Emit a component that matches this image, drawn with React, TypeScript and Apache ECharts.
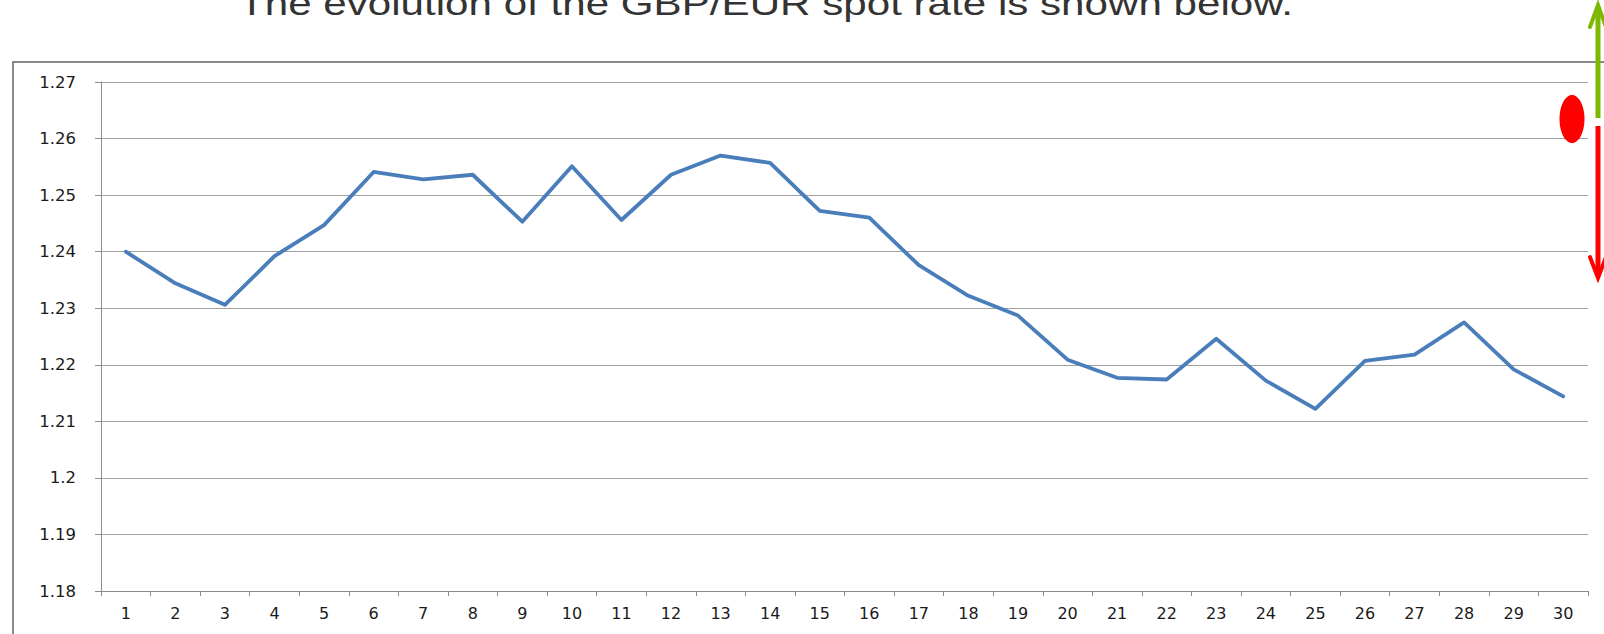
import React, { useEffect, useRef } from "react";
import * as echarts from "echarts";

const TITLE = "The evolution of the GBP/EUR spot rate is shown below.";
const categories = [
  "1", "2", "3", "4", "5", "6", "7", "8", "9", "10",
  "11", "12", "13", "14", "15", "16", "17", "18", "19", "20",
  "21", "22", "23", "24", "25", "26", "27", "28", "29", "30",
];
const spotRate = [
  1.24, 1.2344, 1.2306, 1.2392, 1.2447, 1.2541, 1.2528, 1.2536, 1.2453, 1.2551,
  1.2456, 1.2536, 1.257, 1.2557, 1.2472, 1.246, 1.2376, 1.2322, 1.2287, 1.2209,
  1.2177, 1.2174, 1.2246, 1.2172, 1.2122, 1.2207, 1.2218, 1.2275, 1.2192, 1.2144,
];
const yMin = 1.18;
const yMax = 1.27;
const yStep = 0.01;

export default function App() {
  const ref = useRef<HTMLDivElement>(null);
  useEffect(() => {
    if (!ref.current) return;
    const chart = echarts.init(ref.current, null, { renderer: "svg" });
    const green = "#7fb800";
    const red = "#ff0000";
    chart.setOption({
      animation: false,
      backgroundColor: "#ffffff",
      grid: { left: 101, right: 16, top: 82, bottom: 43, containLabel: false },
      xAxis: {
        type: "category",
        data: categories,
        boundaryGap: true,
        axisLine: { show: true, lineStyle: { color: "#8c8c8c", width: 1 } },
        axisTick: { show: true, length: 5, lineStyle: { color: "#8c8c8c" } },
        axisLabel: {
          color: "#1a1a1a",
          fontFamily: "DejaVu Sans",
          fontSize: 16,
          margin: 14,
        },
        splitLine: { show: false },
      },
      yAxis: {
        type: "value",
        min: yMin,
        max: yMax,
        interval: yStep,
        axisLine: { show: true, lineStyle: { color: "#8c8c8c", width: 1 } },
        axisTick: { show: true, length: 6, lineStyle: { color: "#8c8c8c" } },
        axisLabel: {
          color: "#1a1a1a",
          fontFamily: "DejaVu Sans",
          fontSize: 16.5,
          margin: 25,
          formatter: (v: number) => String(+v.toFixed(2)),
        },
        splitLine: { show: true, lineStyle: { color: "#a0a0a0", width: 1 } },
      },
      series: [
        {
          type: "line",
          data: spotRate,
          showSymbol: false,
          symbol: "none",
          smooth: false,
          lineStyle: { color: "#4a7ebb", width: 3.8, join: "round", cap: "round" },
          z: 5,
        },
      ],
      graphic: [
        {
          type: "rect",
          shape: { x: 13, y: 62, width: 1640, height: 640 },
          style: { fill: "none", stroke: "#8a8a8a", lineWidth: 2 },
          z: -10,
          silent: true,
        },
        {
          type: "text",
          x: 766,
          y: 3,
          scaleX: 1.24,
          style: {
            text: TITLE,
            fontFamily: "Liberation Sans",
            fontSize: 34,
            fill: "#333333",
            textAlign: "center",
            textVerticalAlign: "middle",
          },
          z: 10,
        },
        {
          type: "line",
          shape: { x1: 1598, y1: 118, x2: 1598, y2: 7 },
          style: { stroke: green, lineWidth: 5 },
          z: 10,
        },
        {
          type: "polyline",
          shape: { points: [[1590, 27], [1598, 5], [1606, 27]] },
          style: { stroke: green, lineWidth: 4, fill: "none", lineCap: "round" },
          z: 10,
        },
        {
          type: "line",
          shape: { x1: 1598, y1: 126, x2: 1598, y2: 276 },
          style: { stroke: red, lineWidth: 5 },
          z: 10,
        },
        {
          type: "polyline",
          shape: { points: [[1590, 257], [1598, 278], [1606, 257]] },
          style: { stroke: red, lineWidth: 4, fill: "none", lineCap: "round" },
          z: 10,
        },
        {
          type: "ellipse",
          shape: { cx: 1572, cy: 119, rx: 12.5, ry: 24 },
          style: { fill: red },
          z: 10,
        },
      ],
    });
    return () => chart.dispose();
  }, []);
  return (
    <div
      ref={ref}
      style={{ position: "absolute", left: 0, top: 0, width: 1604, height: 634 }}
    />
  );
}
